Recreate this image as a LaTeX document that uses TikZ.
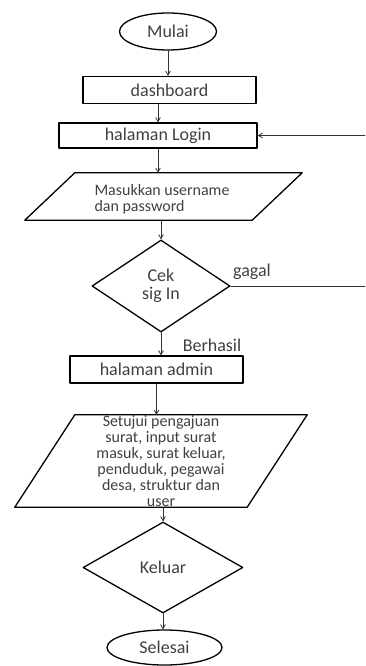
\documentclass[tikz,border=0pt]{standalone}
\usepackage{fontspec}
\setmainfont{Carlito}
\usepackage{tikz}
\usetikzlibrary{arrows}
\usetikzlibrary{shapes.geometric}
\newcommand{\bigtxt}{\fontsize{18}{18}\selectfont}
\newcommand{\smalltxt}{\fontsize{16}{16}\selectfont}

\begin{document}
\begin{tikzpicture}[line cap=round,line join=round,>=angle 60,x=1pt,y=-1pt,
  term/.style={draw,ellipse,line width=1.3pt,inner sep=0pt,font=\bigtxt,text=black!75},
  proc/.style={draw,rectangle,line width=1.3pt,inner sep=0pt,font=\bigtxt,text=black!75},
  iobox/.style={rectangle,inner sep=0pt},
  ioline/.style={line width=1.3pt},
  cond/.style={draw,diamond,line width=1.3pt,inner sep=0pt,font=\bigtxt,text=black!75,align=center},
  lbl/.style={font=\bigtxt,text=black!75},
  flow/.style={->,line width=0.8pt,black!80}]
\useasboundingbox (0,0) rectangle (365,666);
\node[term,minimum width=97pt,minimum height=37pt] (mulai) at (168,31.5) {Mulai};
\node[proc,minimum width=173pt,minimum height=27pt] (dash) at (169.5,90) {dashboard};
\node[proc,minimum width=198pt,minimum height=25pt] (login) at (158,135.5) {halaman Login};
\node[iobox,minimum width=277pt,minimum height=47pt] (input) at (163.5,196.5) {};
\draw[ioline] ([xshift=50pt]input.north west) -- (input.north east) -- ([xshift=-50pt]input.south east) -- (input.south west) -- cycle;
\node[font=\smalltxt,text=black!75,align=left] (inputtxt) at (162,199) {Masukkan username\\dan password};
\node[cond,minimum width=138pt,minimum height=92pt] (cek) at (161,286) {Cek\\sig In};
\node[proc,minimum width=173pt,minimum height=27pt] (admin) at (156.5,369.5) {halaman admin};
\node[iobox,minimum width=292pt,minimum height=92pt] (proses) at (161,461) {};
\draw[ioline] ([xshift=60pt]proses.north west) -- (proses.north east) -- ([xshift=-60pt]proses.south east) -- (proses.south west) -- cycle;
\node[font=\smalltxt,text=black!75,align=center] (prosestxt) at (161,461) {Setujui pengajuan\\surat, input surat\\masuk, surat keluar,\\penduduk, pegawai\\desa, struktur dan\\user};
\node[cond,minimum width=160pt,minimum height=91pt] (keluar) at (163,567.5) {Keluar};
\node[term,minimum width=115pt,minimum height=35pt] (selesai) at (164.5,647.5) {Selesai};

\node[lbl] (gagal) at (252,272) {gagal};
\node[lbl] (berhasil) at (212,345) {Berhasil};
\coordinate (kanan) at (365,286);

\draw[flow] (mulai.south) -- (mulai.south |- dash.north);
\draw[flow] (login.north |- dash.south) -- (login.north);
\draw[flow] (login.south) -- (login.south |- input.north);
\draw[flow] (cek.north |- input.south) -- (cek.north);
\draw[flow] (cek.south) -- (cek.south |- admin.north);
\draw[flow] (admin.south) -- (admin.south |- proses.north);
\draw[flow] (keluar.north |- proses.south) -- (keluar.north);
\draw[flow] (keluar.south) -- (keluar.south |- selesai.north);
% gagal kembali ke login
\draw[line width=0.8pt,black!80] (cek.east) -- (kanan);
\draw[flow] (kanan |- login.east) -- (login.east);
\end{tikzpicture}
\end{document}
